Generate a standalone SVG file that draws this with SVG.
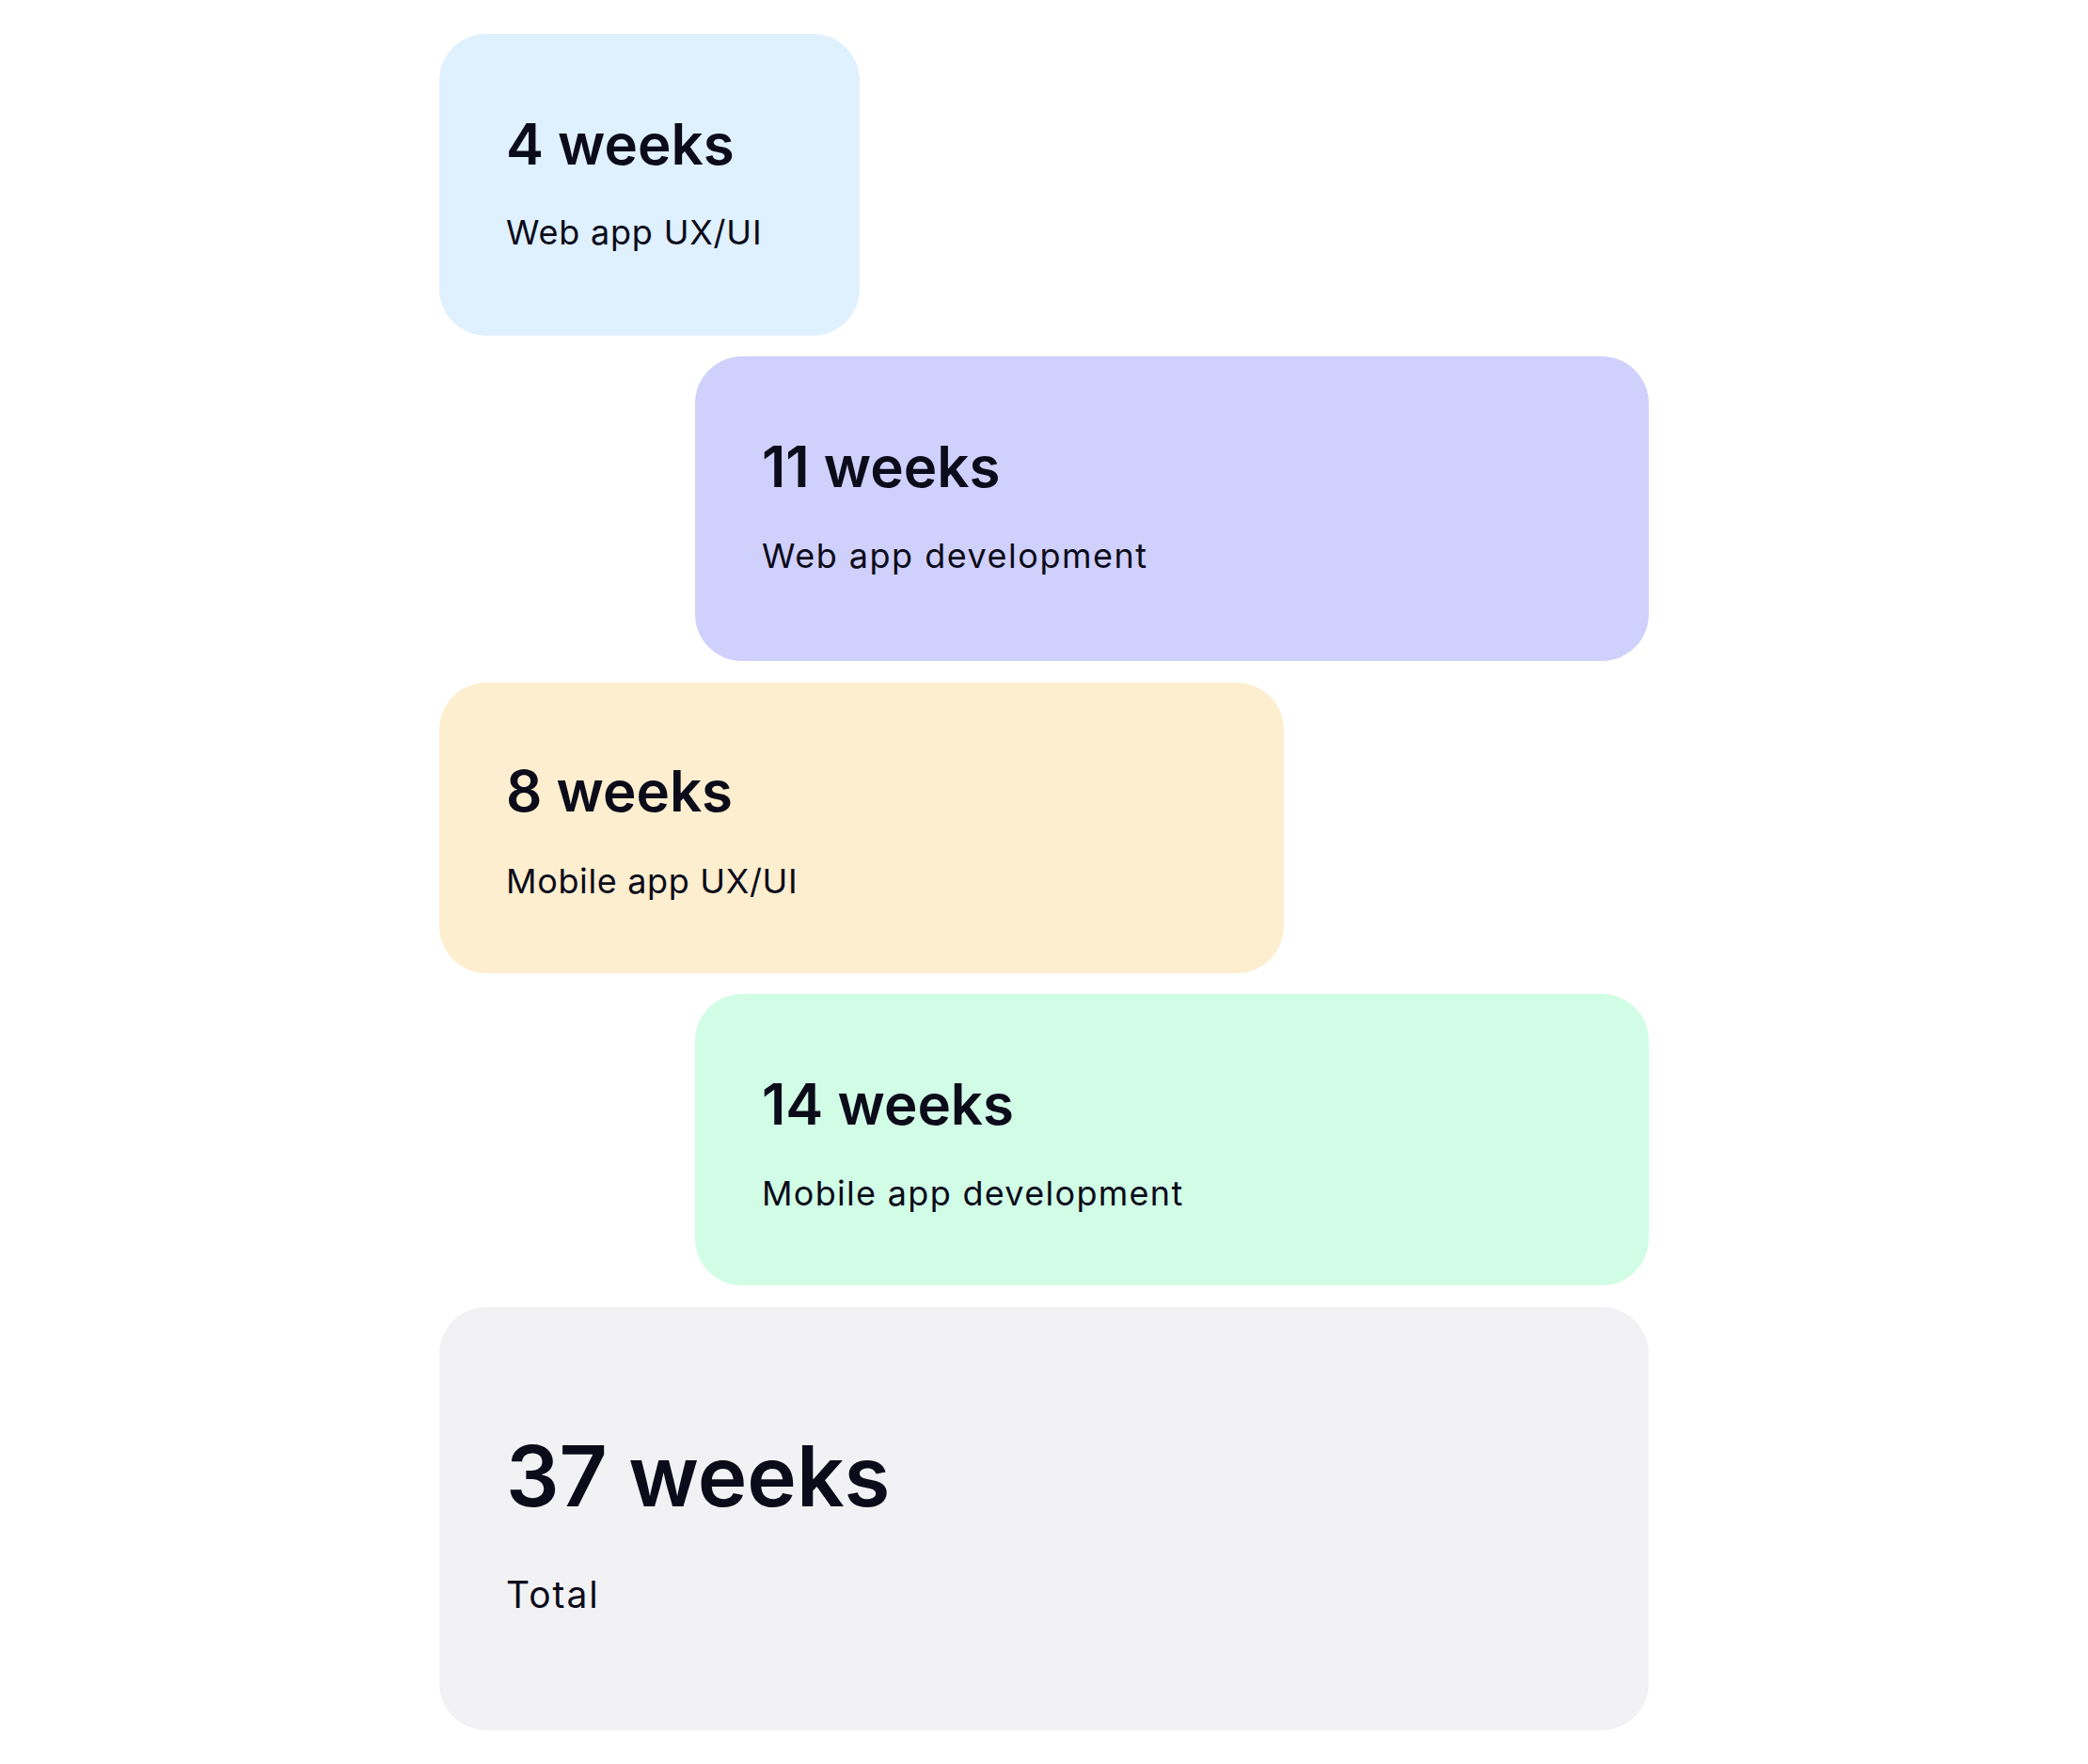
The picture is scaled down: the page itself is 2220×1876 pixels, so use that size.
<svg xmlns="http://www.w3.org/2000/svg" width="2220" height="1876" viewBox="0 0 2220 1876">
<style>
.box{stroke:none}
.t{font-family:Inter,"Liberation Sans",sans-serif;font-weight:600;font-size:60px;fill:#0B0B1A}
.s{font-family:Inter,"Liberation Sans",sans-serif;font-weight:400;font-size:36px;letter-spacing:1.5px;fill:#0B0B1A}
.tb{font-family:Inter,"Liberation Sans",sans-serif;font-weight:600;font-size:89px;fill:#0B0B1A}
.sb{font-family:Inter,"Liberation Sans",sans-serif;font-weight:400;font-size:39px;letter-spacing:2px;fill:#0B0B1A}
</style>
<rect width="2220" height="1876" fill="#FFFFFF"/>
<g id="connectors"/>
<g id="web-uxui">
<rect class="box" x="467" y="36" width="447" height="321" rx="50" fill="#DFF0FE"/>
<text class="t" x="538" y="175">4 weeks</text>
<text class="s" x="538" y="260" style="letter-spacing:0.8px">Web app UX/UI</text>
</g>
<g id="web-dev">
<rect class="box" x="739" y="379" width="1014" height="324" rx="50" fill="#D0D0FC"/>
<text class="t" x="810" y="518">11 weeks</text>
<text class="s" x="810" y="604">Web app development</text>
</g>
<g id="mobile-uxui">
<rect class="box" x="467" y="726" width="898" height="309" rx="50" fill="#FDEECF"/>
<text class="t" x="538" y="863">8 weeks</text>
<text class="s" x="538" y="950" style="letter-spacing:0.65px">Mobile app UX/UI</text>
</g>
<g id="mobile-dev">
<rect class="box" x="739" y="1057" width="1014" height="310" rx="50" fill="#D1FDE6"/>
<text class="t" x="810" y="1196">14 weeks</text>
<text class="s" x="810" y="1282" style="letter-spacing:1.3px">Mobile app development</text>
</g>
<g id="total">
<rect class="box" x="467" y="1390" width="1286" height="450" rx="50" fill="#F2F2F4"/>
<text class="tb" x="538" y="1602">37 weeks</text>
<text class="sb" x="538" y="1710">Total</text>
</g>
</svg>
